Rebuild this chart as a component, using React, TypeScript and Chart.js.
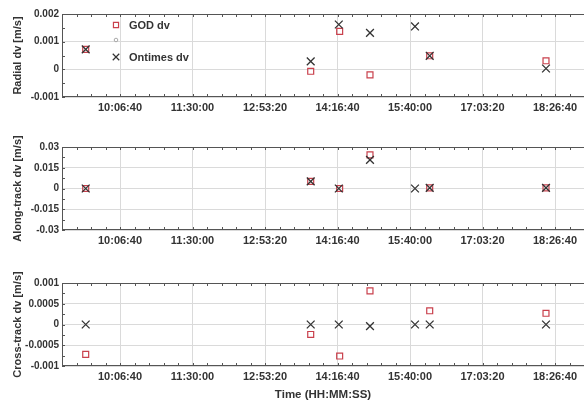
import React, { useEffect, useRef } from 'react';
import { Chart, registerables } from 'chart.js';

Chart.register(...registerables);

// ---------- data ----------
const X_RANGE = ['09:00:00', '19:00:00'];
const X_MINOR_STEP_SEC = 1000;
const X_TICK_LABELS = ['10:06:40', '11:30:00', '12:53:20', '14:16:40', '15:40:00', '17:03:20', '18:26:40'];

const GOD_TIMES = ['09:27:15', '13:45:52', '14:19:09', '14:54:01', '16:02:39', '18:16:19'];
const ONTIMES_TIMES = ['09:27:15', '13:45:52', '14:18:09', '14:54:01', '15:45:45', '16:02:39', '18:16:19'];

const GOD_RADIAL = [0.00072, -0.00007, 0.00137, -0.0002, 0.00049, 0.00031];
const ONTIMES_RADIAL = [0.00072, 0.00029, 0.00162, 0.00132, 0.00155, 0.00049, 0.00003];

const GOD_ALONG = [0, 0.0052, 0, 0.0243, 0.0005, 0.0005];
const ONTIMES_ALONG = [0, 0.0052, 0, 0.0207, 0, 0.0005, 0.0005];

const GOD_CROSS = [-0.00072, -0.00024, -0.00076, 0.00081, 0.00033, 0.00027];
const ONTIMES_CROSS = [0, 0, 0, -0.00004, 0, 0, 0];

const RADIAL_TICKS = [-0.001, 0, 0.001, 0.002];
const ALONG_TICKS = [-0.03, -0.015, 0, 0.015, 0.03];
const CROSS_TICKS = [-0.001, -0.0005, 0, 0.0005, 0.001];

const LEGEND_LABELS = ['GOD dv', '', 'Ontimes dv'];
const X_TITLE = 'Time (HH:MM:SS)';
const Y_TITLES = ['Radial dv [m/s]', 'Along-track dv [m/s]', 'Cross-track dv [m/s]'];

// ---------- helpers ----------
const toSec = (s: string) => {
  const [h, m, x] = s.split(':').map(Number);
  return h * 3600 + m * 60 + x;
};
const pad2 = (n: number) => String(n).padStart(2, '0');
const toHMS = (v: number) => {
  const s = Math.round(v);
  return `${pad2(Math.floor(s / 3600))}:${pad2(Math.floor((s % 3600) / 60))}:${pad2(s % 60)}`;
};

const FONT = "'Liberation Sans', Arial, Helvetica, sans-serif";
const TEXT = '#333333';
const RED = '#c9404c';
const CROSS_COL = '#333333';
const GRID = '#dadada';
const FRAME = '#555555';

type Panel = {
  title: string;
  god: number[];
  ont: number[];
  ticks: number[];
  top: number;
  height: number;
  padTop: number;
  xH: number;
  legend: boolean;
  xTitle: boolean;
};

const PANELS: Panel[] = [
  { title: Y_TITLES[0], god: GOD_RADIAL, ont: ONTIMES_RADIAL, ticks: RADIAL_TICKS, top: 0, height: 120, padTop: 14, xH: 23, legend: true, xTitle: false },
  { title: Y_TITLES[1], god: GOD_ALONG, ont: ONTIMES_ALONG, ticks: ALONG_TICKS, top: 130, height: 120, padTop: 17, xH: 20, legend: false, xTitle: false },
  { title: Y_TITLES[2], god: GOD_CROSS, ont: ONTIMES_CROSS, ticks: CROSS_TICKS, top: 262, height: 144, padTop: 21, xH: 40, legend: false, xTitle: true },
];

const framePlugin = {
  id: 'frame',
  beforeDatasetsDraw(chart: any) {
    const { ctx, chartArea, scales } = chart;
    const { left, right, top, bottom } = chartArea;
    ctx.save();
    ctx.strokeStyle = FRAME;
    ctx.lineWidth = 1;
    ctx.beginPath();
    ctx.moveTo(left + 0.5, bottom - 0.5);
    ctx.lineTo(left + 0.5, top + 0.5);
    ctx.lineTo(right, top + 0.5);
    ctx.moveTo(left + 0.5, bottom - 0.5);
    ctx.lineTo(right, bottom - 0.5);
    const tl = 3;
    scales.x.ticks.forEach((t: any) => {
      const px = Math.round(scales.x.getPixelForValue(t.value)) + 0.5;
      ctx.moveTo(px, top);
      ctx.lineTo(px, top + tl);
      ctx.moveTo(px, bottom);
      ctx.lineTo(px, bottom - tl);
    });
    scales.y.ticks.forEach((t: any) => {
      const py = Math.round(scales.y.getPixelForValue(t.value)) + 0.5;
      ctx.moveTo(left, py);
      ctx.lineTo(left + tl, py);
    });
    ctx.stroke();
    ctx.restore();
  },
};

function drawMarker(ctx: CanvasRenderingContext2D, style: string, cx: number, cy: number, r: number, color: string, lw: number) {
  ctx.save();
  ctx.strokeStyle = color;
  ctx.lineWidth = lw;
  ctx.beginPath();
  if (style === 'rect') {
    const s = r * Math.SQRT1_2;
    ctx.rect(cx - s, cy - s, 2 * s, 2 * s);
  } else if (style === 'circle') {
    ctx.arc(cx, cy, r, 0, Math.PI * 2);
  } else {
    const s = r * Math.SQRT1_2;
    ctx.moveTo(cx - s, cy - s);
    ctx.lineTo(cx + s, cy + s);
    ctx.moveTo(cx - s, cy + s);
    ctx.lineTo(cx + s, cy - s);
  }
  ctx.stroke();
  ctx.restore();
}

const legendPlugin = {
  id: 'legendBox',
  afterDraw(chart: any) {
    const { ctx, chartArea } = chart;
    const mx = chartArea.left + 54;
    const tx = chartArea.left + 67;
    const rows = [11, 26, 43];
    chart.data.datasets.forEach((ds: any, i: number) => {
      const cy = chartArea.top + rows[i];
      const r = ds.pointStyle === 'rect' ? 3.6 : ds.pointStyle === 'circle' ? 1.8 : 4.6;
      drawMarker(ctx, ds.pointStyle, mx, cy, r, ds.borderColor, ds.pointStyle === 'circle' ? 1 : 1.2);
      if (ds.label) {
        ctx.save();
        ctx.fillStyle = TEXT;
        ctx.font = `bold 11px ${FONT}`;
        ctx.textAlign = 'left';
        ctx.textBaseline = 'middle';
        ctx.fillText(ds.label, tx, cy + 0.5);
        ctx.restore();
      }
    });
  },
};

function makeChart(canvas: HTMLCanvasElement, p: Panel) {
  const xLabels = new Set(X_TICK_LABELS);
  const yMin = Math.min(...p.ticks);
  const yMax = Math.max(...p.ticks);
  const yMajor = p.ticks[1] - p.ticks[0];
  const yMinor = yMajor / 2;
  const isMajorY = (v: number) => p.ticks.some((t) => Math.abs(t - v) < yMajor * 1e-3);
  const isMajorX = (v: number) => xLabels.has(toHMS(v));

  const godPts = GOD_TIMES.map((t, i) => ({ x: toSec(t), y: p.god[i] }));
  const ontPts = ONTIMES_TIMES.map((t, i) => ({ x: toSec(t), y: p.ont[i] }));

  return new Chart(canvas, {
    type: 'scatter',
    data: {
      datasets: [
        {
          label: LEGEND_LABELS[0],
          data: godPts,
          pointStyle: 'rect',
          pointRadius: 4.2,
          pointHoverRadius: 4.2,
          borderColor: RED,
          backgroundColor: 'rgba(0,0,0,0)',
          pointBorderWidth: 1.2,
          order: 1,
        },
        {
          label: LEGEND_LABELS[1],
          data: [],
          pointStyle: 'circle',
          pointRadius: 2,
          borderColor: '#a8a8a8',
          backgroundColor: 'rgba(0,0,0,0)',
          order: 2,
        },
        {
          label: LEGEND_LABELS[2],
          data: ontPts,
          pointStyle: 'crossRot',
          pointRadius: 5.5,
          pointHoverRadius: 5.5,
          borderColor: CROSS_COL,
          backgroundColor: 'rgba(0,0,0,0)',
          pointBorderWidth: 1.3,
          order: 0,
        },
      ] as any,
    },
    options: {
      responsive: false,
      animation: false,
      events: [],
      layout: { autoPadding: false, padding: { top: p.padTop, left: 0, right: 0, bottom: 0 } },
      plugins: { legend: { display: false }, tooltip: { enabled: false } },
      scales: {
        x: {
          type: 'linear',
          min: toSec(X_RANGE[0]),
          max: toSec(X_RANGE[1]),
          afterFit: (s: any) => {
            s.height = p.xH;
            s.paddingLeft = 0;
            s.paddingRight = 0;
          },
          border: { display: false },
          grid: {
            drawTicks: false,
            color: (c: any) => (c.tick && isMajorX(c.tick.value) ? GRID : 'rgba(0,0,0,0)'),
          },
          ticks: {
            stepSize: X_MINOR_STEP_SEC,
            maxTicksLimit: 1000,
            autoSkip: false,
            maxRotation: 0,
            minRotation: 0,
            padding: 4,
            color: TEXT,
            font: { family: FONT, size: 11, weight: 'bold' },
            callback: (v: any) => (isMajorX(Number(v)) ? toHMS(Number(v)) : ''),
          },
          title: {
            display: p.xTitle,
            text: X_TITLE,
            color: TEXT,
            font: { family: FONT, size: 11.5, weight: 'bold' },
            padding: { top: 0, bottom: 4 },
          },
        },
        y: {
          type: 'linear',
          min: yMin,
          max: yMax,
          afterFit: (s: any) => {
            s.width = 62;
          },
          border: { display: false },
          grid: {
            drawTicks: false,
            color: (c: any) => (c.tick && isMajorY(c.tick.value) ? GRID : 'rgba(0,0,0,0)'),
          },
          ticks: {
            stepSize: yMinor,
            maxTicksLimit: 1000,
            autoSkip: false,
            padding: 3,
            color: TEXT,
            font: { family: FONT, size: 10, weight: 'bold' },
            callback: (v: any) => {
              const n = Number(v);
              return isMajorY(n) ? String(parseFloat(n.toFixed(6)) || 0) : '';
            },
          },
          title: {
            display: true,
            text: p.title,
            color: TEXT,
            font: { family: FONT, size: 11, weight: 'bold' },
            padding: { top: 11, bottom: 0 },
          },
        },
      },
    } as any,
    plugins: p.legend ? [framePlugin, legendPlugin] : [framePlugin],
  });
}

export default function App() {
  const refs = [useRef<HTMLCanvasElement>(null), useRef<HTMLCanvasElement>(null), useRef<HTMLCanvasElement>(null)];

  useEffect(() => {
    const charts = PANELS.map((p, i) => makeChart(refs[i].current as HTMLCanvasElement, p));
    return () => charts.forEach((c) => c.destroy());
  }, []);

  return (
    <div style={{ position: 'fixed', left: 0, top: 0, width: 584, height: 406, background: '#fff', overflow: 'hidden' }}>
      {PANELS.map((p, i) => (
        <div key={i} style={{ position: 'absolute', left: 0, top: p.top, width: 584, height: p.height }}>
          <canvas ref={refs[i]} width={584} height={p.height} style={{ width: 584, height: p.height, display: 'block' }} />
        </div>
      ))}
    </div>
  );
}
